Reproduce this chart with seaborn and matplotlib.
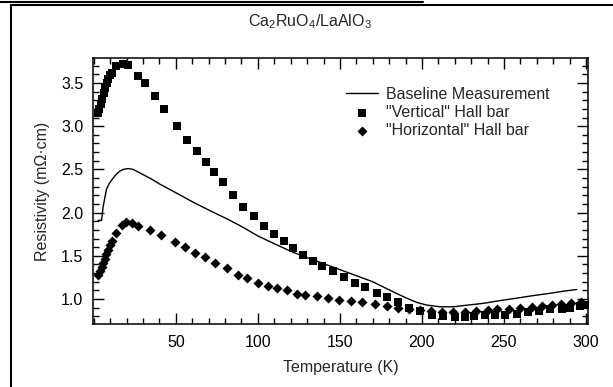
import numpy as np
import pandas as pd
import seaborn as sns
import matplotlib.pyplot as plt
from matplotlib.lines import Line2D
from matplotlib.ticker import MultipleLocator

# Baseline measurement (solid line)
base_T = [2.6, 4.7, 5.7, 7.7, 9.5, 11.8, 14.0, 15.9, 18.0, 20.9, 24.0, 26.0, 30.0, 35.0,
          40.2, 50.0, 60.6, 70.0, 80.9, 90.0, 100.0, 110.0, 121.5, 130.0, 140.0, 150.0,
          160.0, 170.0, 178.5, 185.0, 190.7, 197.0, 202.9, 211.0, 219.1, 228.0, 237.4,
          247.0, 257.7, 268.0, 278.0, 286.0, 294.3]
base_R = [1.91, 1.91, 2.07, 2.27, 2.34, 2.40, 2.45, 2.48, 2.50, 2.51, 2.50, 2.48, 2.44, 2.39,
          2.33, 2.23, 2.12, 2.03, 1.93, 1.84, 1.73, 1.64, 1.54, 1.48, 1.41, 1.34,
          1.27, 1.20, 1.12, 1.06, 1.01, 0.96, 0.93, 0.91, 0.91, 0.93, 0.95,
          0.98, 1.01, 1.04, 1.066, 1.09, 1.11]

# "Vertical" Hall bar (squares)
vert_T = [2.4, 3.4, 4.3, 5.2, 6.1, 7.0, 7.9, 8.8, 9.8, 10.8, 13.8, 17.9, 20.9, 27.0, 31.1,
          37.2, 42.7, 50.4, 56.5, 63.0, 68.3, 73.2, 78.5, 85.0, 91.0, 97.6, 103.7, 109.8,
          115.9, 121.5, 127.2, 133.3, 139.0, 145.5, 152.4, 159.3, 165.4, 172.4, 178.5,
          185.6, 192.3, 199.0, 206.0, 213.0, 220.0, 226.0, 232.0, 238.5, 244.5, 250.6,
          257.7, 264.8, 271.5, 278.0, 285.2, 290.2, 296.3, 299.5]
vert_R = [3.15, 3.20, 3.26, 3.32, 3.38, 3.44, 3.50, 3.55, 3.59, 3.62, 3.70, 3.72, 3.71, 3.585, 3.50,
          3.35, 3.20, 3.00, 2.84, 2.71, 2.585, 2.47, 2.35, 2.20, 2.07, 1.96, 1.85, 1.755,
          1.67, 1.585, 1.51, 1.445, 1.38, 1.33, 1.26, 1.19, 1.135, 1.07, 1.02,
          0.96, 0.90, 0.86, 0.82, 0.80, 0.79, 0.79, 0.80, 0.81, 0.81, 0.82,
          0.83, 0.85, 0.86, 0.88, 0.89, 0.90, 0.92, 0.93]

# "Horizontal" Hall bar (diamonds)
horz_T = [2.6, 3.6, 4.7, 5.7, 6.7, 7.7, 8.7, 9.8, 10.8, 13.8, 16.9, 19.9, 23.0, 27.0, 34.1,
          40.9, 49.4, 55.5, 61.6, 67.7, 73.8, 80.9, 88.0, 93.1, 100.2, 106.3, 111.8, 117.9,
          123.6, 128.7, 135.8, 142.9, 149.6, 156.5, 163.6, 171.3, 178.5, 185.2, 192.3,
          198.8, 205.5, 212.0, 219.0, 226.0, 233.0, 240.0, 246.0, 253.0, 260.0, 267.0,
          273.0, 279.0, 285.0, 291.0, 297.0]
horz_R = [1.28, 1.32, 1.37, 1.42, 1.465, 1.52, 1.57, 1.62, 1.67, 1.76, 1.86, 1.89, 1.88, 1.85, 1.80,
          1.74, 1.66, 1.60, 1.53, 1.485, 1.415, 1.357, 1.28, 1.24, 1.18, 1.155, 1.125, 1.10,
          1.06, 1.045, 1.03, 1.01, 0.99, 0.98, 0.96, 0.94, 0.92, 0.90, 0.89,
          0.87, 0.86, 0.85, 0.85, 0.85, 0.86, 0.87, 0.88, 0.89, 0.90, 0.91,
          0.92, 0.93, 0.94, 0.95, 0.96]

sns.set_style("ticks")
plt.rcParams['font.family'] = ['Liberation Sans', 'DejaVu Sans']
plt.rcParams['mathtext.fontset'] = 'custom'
plt.rcParams['mathtext.rm'] = 'Liberation Sans'
plt.rcParams['mathtext.it'] = 'Liberation Sans:italic'

fig = plt.figure(figsize=(6.13, 3.87), dpi=100)
ax = fig.add_axes([0.1517, 0.1628, 0.8075, 0.6873])

df_base = pd.DataFrame({'T': base_T, 'R': base_R})
df_vert = pd.DataFrame({'T': vert_T, 'R': vert_R})
df_horz = pd.DataFrame({'T': horz_T, 'R': horz_R})

sns.lineplot(data=df_base, x='T', y='R', ax=ax, color='black', lw=1.0,
             label='Baseline Measurement')
sns.scatterplot(data=df_vert, x='T', y='R', ax=ax, marker='s', s=30, color='black',
                linewidth=0, label='"Vertical" Hall bar')
sns.scatterplot(data=df_horz, x='T', y='R', ax=ax, marker='D', s=26, color='black',
                linewidth=0, label='"Horizontal" Hall bar')

ax.set_xlim(-0.5, 301.2)
ax.set_ylim(0.711, 3.789)
ax.xaxis.set_minor_locator(MultipleLocator(10))
ax.yaxis.set_minor_locator(MultipleLocator(0.1))
ax.set_xticks([50, 100, 150, 200, 250, 300])
ax.set_xticklabels(['50', '100', '150', '200', '250', '300'])
ax.set_yticks([1.0, 1.5, 2.0, 2.5, 3.0, 3.5])
ax.set_yticklabels(['1.0', '1.5', '2.0', '2.5', '3.0', '3.5'])

ax.tick_params(which='both', direction='in', top=True, right=True, width=1.0,
               labelsize=11.5, color='black', labelcolor='black')
ax.tick_params(which='major', length=8)
ax.tick_params(which='minor', length=4)
ax.tick_params(axis='x', pad=8)
ax.tick_params(axis='y', pad=7)
for sp in ax.spines.values():
    sp.set_linewidth(1.1)
    sp.set_color('black')

ax.set_xlabel('Temperature (K)', fontsize=11.5, labelpad=7)
ax.set_ylabel('Resistivity (m\u03a9\u00b7cm)', fontsize=11.5, labelpad=8)
fig.suptitle('Ca$_2$RuO$_4$/LaAlO$_3$', x=0.505, y=0.968, fontsize=11.5)

leg = ax.legend(loc='upper right', bbox_to_anchor=(0.935, 0.915), frameon=False,
                fontsize=11.5, handlelength=2.0, handletextpad=0.5,
                labelspacing=0.2, borderaxespad=0)

# page frame around the figure
fig.add_artist(Line2D([0.018, 0.018], [0.0, 0.987], transform=fig.transFigure,
                      color='black', lw=1.5))
fig.add_artist(Line2D([0.018, 1.0], [0.987, 0.987], transform=fig.transFigure,
                      color='black', lw=1.5))
fig.add_artist(Line2D([0.0, 0.69], [0.995, 0.995], transform=fig.transFigure,
                      color='black', lw=1.5))

fig.savefig('out.png', dpi=100)
